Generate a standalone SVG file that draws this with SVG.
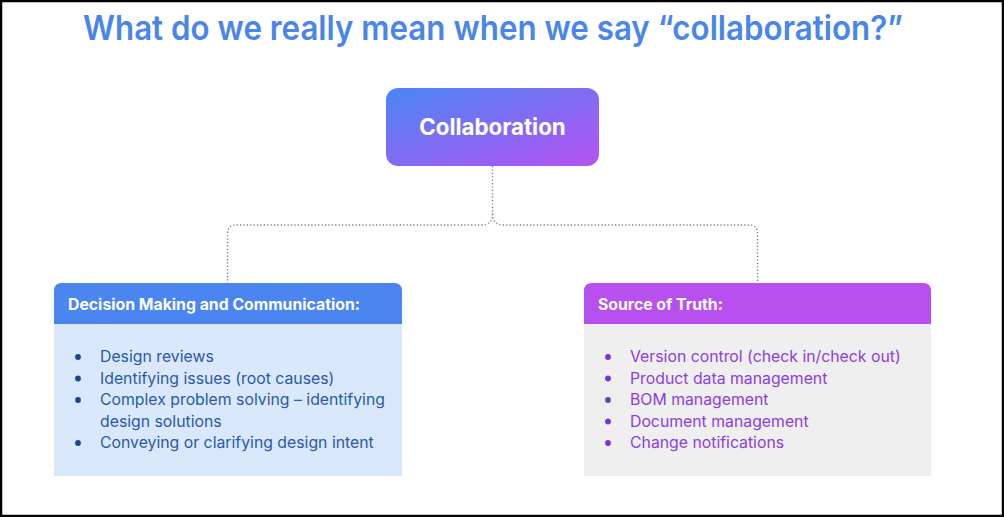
<svg xmlns="http://www.w3.org/2000/svg" width="1004" height="517" viewBox="0 0 1004 517">
<defs>
<linearGradient id="grad" x1="0" y1="0" x2="1" y2="1">
<stop offset="0" stop-color="#4a86f4"/>
<stop offset="1" stop-color="#b652f2"/>
</linearGradient>
<style>
.t{font-family:Inter,"Liberation Sans",sans-serif}
.title{font-size:34px;font-weight:600;fill:#4a86ea}
.main{font-size:22.3px;font-weight:700;fill:#ffffff}
.hdr{font-size:15.8px;font-weight:700;fill:#ffffff}
.lb{font-size:15.8px;fill:#2b58aa}
.rb{font-size:15.8px;fill:#8b40de}
.conn{fill:none;stroke:#7a7a7a;stroke-width:1.4;stroke-dasharray:1.2 2.2}
</style>
</defs>
<rect x="0" y="0" width="1004" height="517" fill="#ffffff"/>
<rect x="1" y="1" width="1002" height="515" fill="none" stroke="#000000" stroke-width="2.5"/>
<text class="t title" x="493" y="40" text-anchor="middle" textLength="820" lengthAdjust="spacingAndGlyphs">What do we really mean when we say “collaboration?”</text>
<g id="connectors">
<path class="conn" d="M492.5 166 V214 Q492.5 225 481 225 H236 Q227.5 225 227.5 234 V283"/>
<path class="conn" d="M492.5 214 Q492.5 225 504 225 H749 Q757.5 225 757.5 234 V283"/>
</g>
<g id="collaboration">
<rect x="386" y="88" width="213" height="78" rx="12" fill="url(#grad)"/>
<text class="t main" x="492.5" y="135" text-anchor="middle">Collaboration</text>
</g>
<g id="decision">
<path d="M54 324 V291 Q54 283 62 283 H394 Q402 283 402 291 V324 Z" fill="#4b85ef"/>
<rect x="54" y="324" width="348" height="152" fill="#d9e9fb"/>
<text class="t hdr" x="68" y="310">Decision Making and Communication:</text>
<g fill="#1f428e">
<circle cx="78" cy="357" r="2.9"/>
<circle cx="78" cy="378.5" r="2.9"/>
<circle cx="78" cy="400" r="2.9"/>
<circle cx="78" cy="443" r="2.9"/>
</g>
<text class="t lb" x="100" y="362">Design reviews</text>
<text class="t lb" x="100" y="383.5">Identifying issues (root causes)</text>
<text class="t lb" x="100" y="405">Complex problem solving – identifying</text>
<text class="t lb" x="100" y="426.5">design solutions</text>
<text class="t lb" x="100" y="448">Conveying or clarifying design intent</text>
</g>
<g id="source">
<path d="M584 324 V291 Q584 283 592 283 H923 Q931 283 931 291 V324 Z" fill="#b850f0"/>
<rect x="584" y="324" width="347" height="152" fill="#efefef"/>
<text class="t hdr" x="598" y="310">Source of Truth:</text>
<g fill="#7b36d2">
<circle cx="608" cy="357" r="2.9"/>
<circle cx="608" cy="378.5" r="2.9"/>
<circle cx="608" cy="400" r="2.9"/>
<circle cx="608" cy="421.5" r="2.9"/>
<circle cx="608" cy="443" r="2.9"/>
</g>
<text class="t rb" x="630" y="362">Version control (check in/check out)</text>
<text class="t rb" x="630" y="383.5">Product data management</text>
<text class="t rb" x="630" y="405">BOM management</text>
<text class="t rb" x="630" y="426.5">Document management</text>
<text class="t rb" x="630" y="448">Change notifications</text>
</g>
</svg>
